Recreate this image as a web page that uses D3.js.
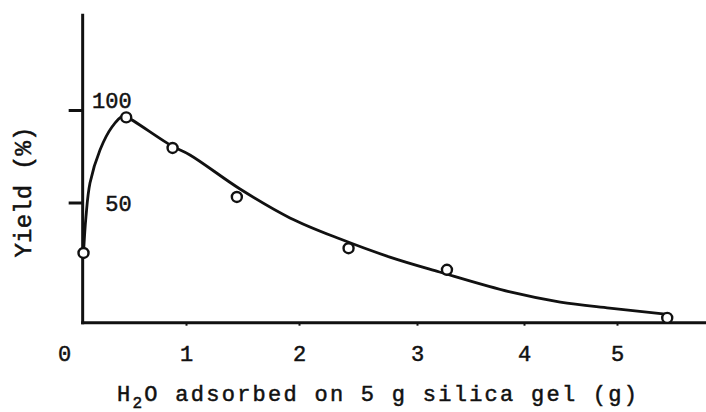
<!DOCTYPE html>
<html>
<head>
<meta charset="utf-8">
<script src="https://cdn.jsdelivr.net/npm/d3@7"></script>
<style>
  html, body { margin: 0; padding: 0; background: #fff; }
  svg { display: block; }
  text { font-family: "Liberation Mono", "Courier New", monospace; fill: #111; stroke: #111; stroke-width: 0.5px; }
</style>
</head>
<body>
<svg id="chart" width="706" height="412"></svg>
<script>
// ---- data ----
const waterG   = [0.16, 0.51, 0.89, 1.45, 2.42, 3.28, 5.54];   // H2O adsorbed (g)
const yieldPct = [29,   96,   79.5, 53,   31,   22,   2];      // Yield (%)

// hand-drawn smoothing curve through the data
const curveX = [0.16, 0.18, 0.213, 0.295, 0.393, 0.484, 0.51, 0.885, 1.035, 1.478, 1.92, 2.35, 2.77, 3.21, 3.87, 4.39, 4.92, 5.52];
const curveY = [29,   44,   60.5,  78.4,  90.8,  96.8,  96.4, 80.5,  75.7,  57.3,  43.6, 34.8, 27.3, 21.1, 12.8, 8.6,  6.1,  3.6];

const xTickValues = [0, 1, 2, 3, 4, 5];
const xTickLabels = ["0", "1", "2", "3", "4", "5"];
const yTickValues = [50, 100];
const yTickLabels = ["50", "100"];

const xLabelParts = ["H", "2", "O adsorbed on 5 g silica gel (g)"];
const yLabelText = "Yield (%)";

// ---- drawing ----
const svg = d3.select("#chart");

// hand-drawn (uneven) axes of the original: piecewise linear scales
const x = d3.scaleLinear()
  .domain([0, 1, 2, 3, 4, 5, 6])
  .range([64, 186, 299, 417, 524, 617, 710]);
const y = d3.scaleLinear()
  .domain([0, 50, 100])
  .range([322.7, 202.5, 110]);

const yAxisAt = 0.153;     // where the vertical axis crosses the x scale
const yTop = 152;          // top of vertical axis (value)
const x0 = x(yAxisAt), yBase = y(0);

// X axis
const gx = svg.append("g").attr("transform", `translate(0,${yBase})`)
  .call(d3.axisBottom(x).tickValues(xTickValues).tickSize(3)
        .tickFormat((d, i) => xTickLabels[i]));
gx.select(".domain").remove();
gx.selectAll(".tick line").attr("stroke", "#111").attr("stroke-width", 2)
  .attr("display", d => d === 0 ? "none" : null);
gx.selectAll(".tick text").attr("y", 38).attr("dy", 0)
  .style("font-size", "22px").style("font-family", "Liberation Mono")
  .attr("fill", "#111");
svg.append("line")
  .attr("x1", x0 - 1.5).attr("x2", 706)
  .attr("y1", yBase).attr("y2", yBase)
  .attr("stroke", "#111").attr("stroke-width", 3);

// Y axis
const yShift = {50: 7.5, 100: -3};
const gy = svg.append("g").attr("transform", `translate(${x0},0)`)
  .call(d3.axisLeft(y).tickValues(yTickValues).tickSize(14)
        .tickFormat((d, i) => yTickLabels[i]));
gy.select(".domain").remove();
gy.selectAll(".tick line").attr("stroke", "#111").attr("stroke-width", 3);
gy.selectAll(".tick text")
  .attr("x", 49).attr("dy", 0).attr("y", d => yShift[d])
  .attr("text-anchor", "end")
  .style("font-size", "22px").style("font-family", "Liberation Mono")
  .attr("fill", "#111");
svg.append("line")
  .attr("x1", x0).attr("x2", x0)
  .attr("y1", y(yTop)).attr("y2", yBase + 1.5)
  .attr("stroke", "#111").attr("stroke-width", 3);

// Curve
const curvePts = curveX.map((v, i) => [v, curveY[i]]);
svg.append("path")
  .datum(curvePts)
  .attr("fill", "none")
  .attr("stroke", "#111")
  .attr("stroke-width", 2.8)
  .attr("stroke-linejoin", "round")
  .attr("d", d3.line().x(d => x(d[0])).y(d => y(d[1])).curve(d3.curveCatmullRom.alpha(0.5)));

// Data points (open circles)
svg.append("g").selectAll("circle")
  .data(waterG.map((v, i) => [v, yieldPct[i]]))
  .join("circle")
  .attr("cx", d => x(d[0])).attr("cy", d => y(d[1]))
  .attr("r", 5)
  .attr("fill", "#fff")
  .attr("stroke", "#111")
  .attr("stroke-width", 2.4);

// X label
const xl = svg.append("text")
  .attr("x", 117).attr("y", 401)
  .attr("textLength", 520).attr("lengthAdjust", "spacing")
  .style("font-size", "22px");
xl.append("tspan").text(xLabelParts[0]);
xl.append("tspan").attr("dy", 7).style("font-size", "16px").text(xLabelParts[1]);
xl.append("tspan").attr("dy", -7).text(xLabelParts[2]);

// Y label
svg.append("text")
  .attr("transform", "translate(31,192) rotate(-90)")
  .attr("text-anchor", "middle")
  .attr("textLength", 131).attr("lengthAdjust", "spacing")
  .style("font-size", "24px")
  .text(yLabelText);
</script>
</body>
</html>
